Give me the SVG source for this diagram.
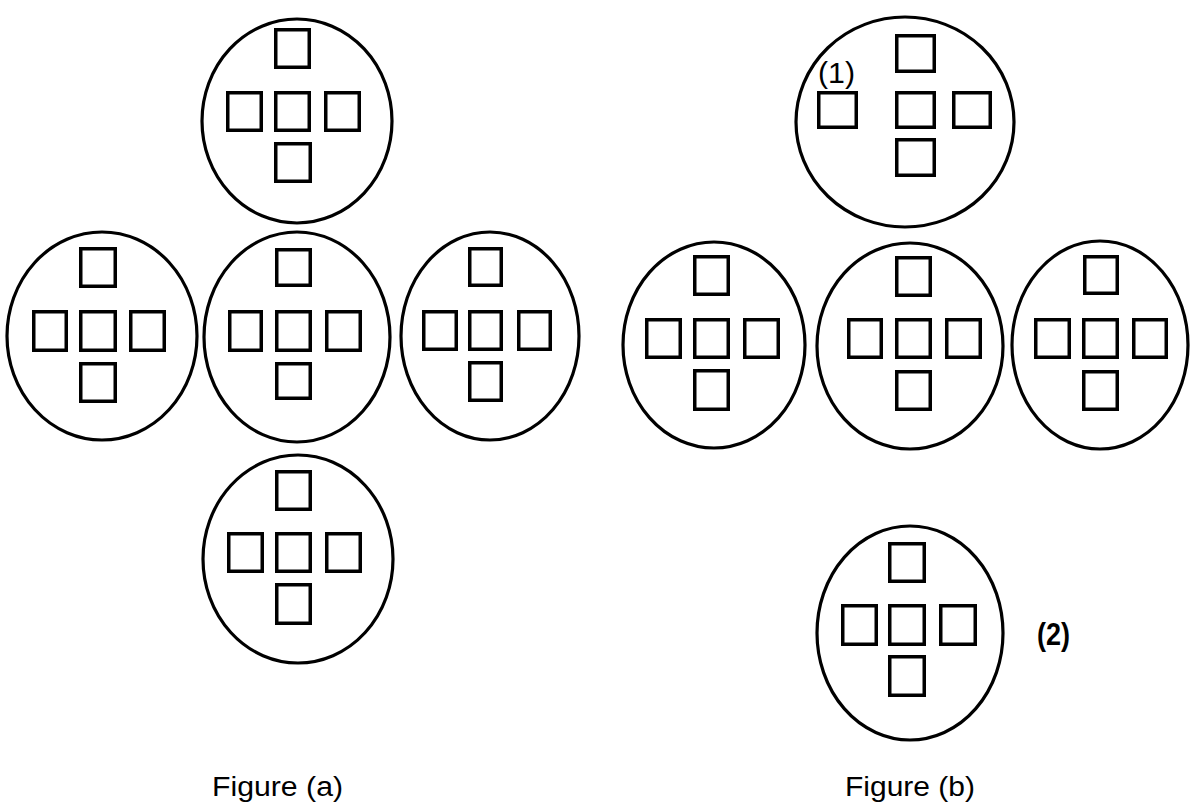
<svg xmlns="http://www.w3.org/2000/svg" width="1191" height="808" viewBox="0 0 1191 808">
<style>
.cell{fill:none;stroke:#000;stroke-width:3.2}
.sq{fill:none;stroke:#000;stroke-width:3.5}
.lbl{font-family:"Liberation Sans",Arial,sans-serif;fill:#000}
</style>
<rect width="1191" height="808" fill="#fff"/>
<g id="a-top">
<ellipse class="cell" cx="297" cy="121" rx="95" ry="102"/>
<rect class="sq" x="275.75" y="29.75" width="33.5" height="37.5"/>
<rect class="sq" x="227.75" y="92.75" width="33.5" height="37.5"/>
<rect class="sq" x="275.75" y="92.75" width="33.5" height="37.5"/>
<rect class="sq" x="325.75" y="92.75" width="33.5" height="37.5"/>
<rect class="sq" x="275.75" y="143.75" width="34.5" height="37.5"/>
</g>
<g id="a-left">
<ellipse class="cell" cx="102" cy="336" rx="95" ry="104"/>
<rect class="sq" x="80.75" y="248.75" width="34.5" height="37.5"/>
<rect class="sq" x="33.75" y="311.75" width="32.5" height="38.5"/>
<rect class="sq" x="80.75" y="311.75" width="34.5" height="38.5"/>
<rect class="sq" x="130.75" y="311.75" width="33.5" height="38.5"/>
<rect class="sq" x="80.75" y="363.75" width="34.5" height="37.5"/>
</g>
<g id="a-center">
<ellipse class="cell" cx="297" cy="337" rx="93" ry="105"/>
<rect class="sq" x="276.75" y="249.75" width="33.5" height="35.5"/>
<rect class="sq" x="229.75" y="311.75" width="31.5" height="38.5"/>
<rect class="sq" x="276.75" y="311.75" width="33.5" height="38.5"/>
<rect class="sq" x="326.75" y="311.75" width="33.5" height="38.5"/>
<rect class="sq" x="276.75" y="363.75" width="33.5" height="34.5"/>
</g>
<g id="a-right">
<ellipse class="cell" cx="490" cy="336" rx="89" ry="104"/>
<rect class="sq" x="469.75" y="248.75" width="31.5" height="36.5"/>
<rect class="sq" x="423.75" y="311.75" width="32.5" height="37.5"/>
<rect class="sq" x="469.75" y="311.75" width="31.5" height="37.5"/>
<rect class="sq" x="518.75" y="311.75" width="31.5" height="37.5"/>
<rect class="sq" x="469.75" y="362.75" width="31.5" height="37.5"/>
</g>
<g id="a-bottom">
<ellipse class="cell" cx="298" cy="559" rx="95" ry="104"/>
<rect class="sq" x="276.75" y="471.75" width="33.5" height="37.5"/>
<rect class="sq" x="228.75" y="533.75" width="33.5" height="37.5"/>
<rect class="sq" x="276.75" y="533.75" width="33.5" height="37.5"/>
<rect class="sq" x="326.75" y="533.75" width="33.5" height="37.5"/>
<rect class="sq" x="276.75" y="584.75" width="33.5" height="38.5"/>
</g>
<g id="b-top">
<ellipse class="cell" cx="905" cy="122" rx="109" ry="105"/>
<rect class="sq" x="896.75" y="35.75" width="37.5" height="35.5"/>
<rect class="sq" x="818.75" y="92.75" width="37.5" height="34.5"/>
<rect class="sq" x="896.75" y="92.75" width="37.5" height="34.5"/>
<rect class="sq" x="953.75" y="92.75" width="36.5" height="34.5"/>
<rect class="sq" x="896.75" y="139.75" width="37.5" height="35.5"/>
<text class="lbl" x="818" y="83" font-size="29" textLength="37" lengthAdjust="spacingAndGlyphs">(1)</text>
</g>
<g id="b-left">
<ellipse class="cell" cx="714" cy="345" rx="91" ry="103"/>
<rect class="sq" x="694.75" y="256.75" width="33.5" height="37.5"/>
<rect class="sq" x="646.75" y="319.75" width="33.5" height="37.5"/>
<rect class="sq" x="694.75" y="319.75" width="33.5" height="37.5"/>
<rect class="sq" x="744.75" y="319.75" width="33.5" height="37.5"/>
<rect class="sq" x="694.75" y="370.75" width="33.5" height="38.5"/>
</g>
<g id="b-center">
<ellipse class="cell" cx="910" cy="346" rx="93" ry="103"/>
<rect class="sq" x="896.75" y="257.75" width="33.5" height="37.5"/>
<rect class="sq" x="848.75" y="319.75" width="32.5" height="37.5"/>
<rect class="sq" x="896.75" y="319.75" width="33.5" height="37.5"/>
<rect class="sq" x="946.75" y="319.75" width="33.5" height="37.5"/>
<rect class="sq" x="896.75" y="371.75" width="33.5" height="37.5"/>
</g>
<g id="b-right">
<ellipse class="cell" cx="1100" cy="345" rx="88" ry="104"/>
<rect class="sq" x="1084.75" y="256.75" width="32.5" height="36.5"/>
<rect class="sq" x="1035.75" y="319.75" width="33.5" height="37.5"/>
<rect class="sq" x="1083.75" y="319.75" width="33.5" height="37.5"/>
<rect class="sq" x="1133.75" y="319.75" width="32.5" height="37.5"/>
<rect class="sq" x="1083.75" y="371.75" width="33.5" height="37.5"/>
</g>
<g id="b-bottom">
<ellipse class="cell" cx="910" cy="633" rx="93" ry="107"/>
<rect class="sq" x="889.75" y="543.75" width="34.5" height="37.5"/>
<rect class="sq" x="842.75" y="605.75" width="33.5" height="38.5"/>
<rect class="sq" x="889.75" y="605.75" width="34.5" height="38.5"/>
<rect class="sq" x="940.75" y="605.75" width="34.5" height="38.5"/>
<rect class="sq" x="889.75" y="656.75" width="34.5" height="38.5"/>
</g>
<text class="lbl" x="1037" y="645" font-size="31" font-weight="bold" textLength="33" lengthAdjust="spacingAndGlyphs">(2)</text>
<g id="connectors"/>
<text class="lbl" x="212" y="796" font-size="27" textLength="131" lengthAdjust="spacingAndGlyphs">Figure (a)</text>
<text class="lbl" x="845" y="796" font-size="27" textLength="130" lengthAdjust="spacingAndGlyphs">Figure (b)</text>
</svg>
